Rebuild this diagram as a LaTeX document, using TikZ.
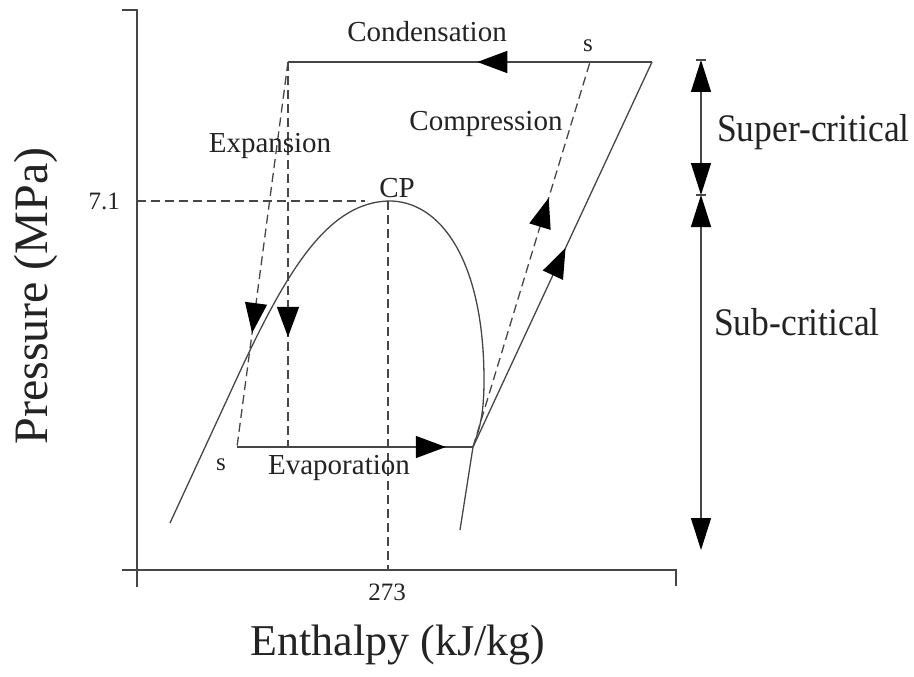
\documentclass[tikz,border=0pt]{standalone}
\usepackage{fontspec}
\setmainfont{Liberation Serif}
\usepackage{graphicx}
\usetikzlibrary{arrows.meta,decorations.markings}
\definecolor{ln}{RGB}{70,70,70}
\definecolor{tx}{RGB}{35,35,35}
\tikzset{
  ln/.style={draw=ln, line width=1.3pt},
  dsh/.style={ln, dash pattern=on 9pt off 5pt},
  midarrow/.style={postaction={decorate},
    decoration={markings, mark=at position #1 with {\arrow{Triangle[length=30pt,width=22pt,color=black]}}}},
  dimtip/.tip={Triangle[length=32pt,width=20pt,color=black]},
  lab/.style={text=tx, inner sep=0pt, anchor=base, font=\fontsize{29}{29}\selectfont},
  small/.style={text=tx, inner sep=0pt, anchor=base, font=\fontsize{25}{25}\selectfont},
}
\begin{document}
\begin{tikzpicture}[x=1pt,y=-1pt]
\useasboundingbox (0,0) rectangle (914,677);
% axes
\coordinate (ytick) at (122,10);
\coordinate (ytop) at (137,10);
\coordinate (ybot) at (137,587);
\coordinate (xl) at (122,570);
\coordinate (xr) at (676,570);
\coordinate (xrt) at (676,586);
\draw[ln] (ytick) -- (ytop) -- (ybot);
\draw[ln] (xl) -- (xr) -- (xrt);
% critical point guides
\coordinate (CP) at (388,201);
\coordinate (CPx) at (388,570);
\coordinate (py) at (137,201);
\coordinate (pe) at (365,201);
\draw[dsh] (py) -- (pe);
\draw[dsh] (CP) -- (CPx);
% saturation dome
\coordinate (L0) at (170,523);
\coordinate (L1) at (243,365);
\coordinate (R1) at (484,380);
\coordinate (E2) at (473,447);
\coordinate (R2) at (460,530);
\draw[ln] (L0) -- (L1) .. controls (290,265) and (330,203) .. (CP)
  .. controls (440,200) and (484,260) .. (R1)
  .. controls (484,420) and (478,432) .. (E2) -- (R2);
% cycle
\coordinate (C1) at (288,62);
\coordinate (C2) at (652,62);
\coordinate (Cs) at (590,62);
\coordinate (E1) at (237,447);
\coordinate (V1) at (288,447);
\draw[ln, midarrow=0.48] (C2) -- (C1);
\draw[dsh, midarrow=0.704] (C1) -- (E1);
\draw[dsh, midarrow=0.714] (C1) -- (V1);
\draw[ln, midarrow=0.885] (E1) -- (E2);
\draw[ln, midarrow=0.517] (E2) -- (C2);
\draw[dsh, midarrow=0.647] (E2) -- (Cs);
% dimension line
\coordinate (D1) at (701,60);
\coordinate (D2) at (701,195);
\coordinate (D3) at (701,550);
\coordinate (T1a) at (696,60);
\coordinate (T1b) at (706,60);
\coordinate (T2a) at (696,195);
\coordinate (T2b) at (706,195);
\draw[ln, dimtip-dimtip] (D1) -- (D2);
\draw[ln, dimtip-dimtip] (D2) -- (D3);
\draw[ln] (T1a) -- (T1b);
\draw[ln] (T2a) -- (T2b);
% labels
\node[lab] (cond) at (427,42) {Condensation};
\node[lab] (comp) at (486,130) {Compression};
\node[lab] (expa) at (270,153) {Expansion};
\node[lab] (evap) at (339,474) {Evaporation};
\node[lab] (cpl) at (397,197) {CP};
\node[small] (s1) at (588,52) {s};
\node[small] (s2) at (221,470) {s};
\node[small] (t273) at (387,600) {273};
\node[small, anchor=base east] (t71) at (120,209) {7.1};
\node[text=tx, inner sep=0pt, anchor=base west, font=\fontsize{35.5}{35.5}\selectfont] (sup) at (717,142) {\scalebox{1}[1.1]{Super-critical}};
\node[text=tx, inner sep=0pt, anchor=base west, font=\fontsize{35.5}{35.5}\selectfont] (sub) at (714,335) {\scalebox{1}[1.1]{Sub-critical}};
\node[text=tx, inner sep=0pt, anchor=base, font=\fontsize{44}{44}\selectfont] (xlab) at (398,655) {Enthalpy (kJ/kg)};
\node[text=tx, inner sep=0pt, anchor=base, rotate=90, font=\fontsize{48}{48}\selectfont] (ylab) at (47,296) {Pressure (MPa)};
\end{tikzpicture}
\end{document}
